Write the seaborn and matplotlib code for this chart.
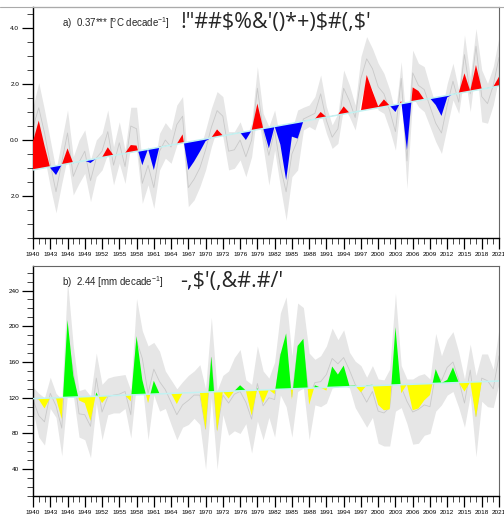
import numpy as np
import pandas as pd
import matplotlib
matplotlib.use('Agg')
import matplotlib.pyplot as plt
import seaborn as sns
from matplotlib.lines import Line2D

# years on the x axis
first_year = 1940
last_year = 2021

# a) temperature anomaly: observed series, ensemble envelope and ensemble mean
obs_a = [-0.05, 0.69, -0.20, -1.00, -1.25, -0.88, -0.30, -0.83, -0.77, -0.74,
         -0.82, -0.66, -0.62, -0.26, -0.55, -0.51, -0.47, -0.18, -0.20, -0.90,
         -0.32, -1.07, -0.22, -0.21, -0.18, -0.14, 0.20, -1.07, -0.77, -0.42,
         -0.04, 0.08, 0.38, 0.16, 0.19, 0.23, 0.27, 0.00, 0.34, 1.30,
         0.42, -0.30, 0.49, -0.17, -1.43, 0.12, 0.05, 0.68, 0.71, 0.75,
         1.00, 0.82, 0.86, 0.90, 1.20, 0.97, 1.01, 1.04, 2.32, 1.75,
         1.20, 1.45, 1.23, 1.00, 1.40, -0.36, 1.88, 1.75, 1.45, 1.49,
         1.25, 0.86, 1.52, 1.64, 1.68, 2.38, 1.75, 2.68, 1.82, 1.86,
         1.90, 2.26]
hi_a = [1.19, 2.05, 1.07, 0.00, -1.07, 0.00, 1.07, -0.60, 0.00, 0.36,
        -0.71, 0.00, 0.24, 1.07, -0.24, 0.65, -0.36, 1.17, 1.17, -0.83,
        -0.24, -0.95, 0.24, 0.62, 0.36, 1.25, 1.55, -1.00, -0.70, -0.36,
        0.36, 1.13, 1.73, 1.55, 0.30, 0.30, 0.65, 0.06, 0.60, 2.62,
        0.95, 0.48, 1.07, 0.00, -0.83, 0.36, 1.07, 1.17, 1.25, 1.55,
        2.32, 1.19, 0.54, 0.95, 2.50, 1.96, 1.25, 2.98, 3.69, 3.27,
        2.74, 2.38, 1.79, 0.95, 2.80, 0.24, 3.21, 2.74, 2.62, 1.90,
        1.25, 1.00, 2.02, 2.74, 1.79, 3.75, 2.26, 3.98, 2.50, 2.02,
        2.62, 3.69]
lo_a = [-0.30, 0.20, -0.60, -1.67, -2.60, -1.55, -0.60, -1.96, -1.55, -1.19,
        -2.20, -1.31, -1.07, -0.48, -1.60, -0.83, -1.55, -0.18, -0.36, -2.26,
        -1.60, -2.44, -1.07, -0.65, -0.83, -0.18, 0.12, -2.38, -2.14, -1.67,
        -1.07, -0.24, 0.42, 0.12, -1.07, -1.01, -0.71, -1.31, -0.60, 1.07,
        -0.24, -1.61, -0.36, -1.67, -2.86, -1.31, -1.07, 0.36, 0.48, 0.36,
        0.95, 0.24, -0.30, -0.12, 1.19, 0.83, 0.36, 1.43, 2.14, 1.79,
        1.07, 0.95, 0.36, -0.36, 1.55, -1.73, 1.55, 1.19, 1.01, 0.48,
        -0.06, -0.48, 0.48, 1.43, 0.95, 2.38, 1.01, 2.74, 0.65, 0.60,
        1.25, 2.26]
mid_a = [0.45, 1.15, 0.25, -0.85, -1.85, -0.80, 0.25, -1.30, -0.80, -0.40,
         -1.45, -0.65, -0.40, 0.30, -0.90, -0.10, -0.95, 0.50, 0.40, -1.55,
         -0.90, -1.70, -0.40, 0.00, -0.25, 0.55, 0.85, -1.70, -1.40, -1.00,
         -0.35, 0.45, 1.05, 0.85, -0.40, -0.35, 0.00, -0.60, 0.00, 1.85,
         0.35, -0.55, 0.35, -0.95, -1.85, -0.50, 0.00, 0.75, 0.85, 0.95,
         1.65, 0.70, 0.10, 0.40, 1.85, 1.40, 0.80, 2.20, 2.90, 2.55,
         1.90, 1.65, 1.05, 0.30, 2.20, -0.75, 2.40, 1.95, 1.80, 1.20,
         0.60, 0.25, 1.25, 2.10, 1.35, 3.05, 1.65, 3.35, 1.55, 1.30,
         1.95, 2.95]
trend_a = (-1.07, 0.037)   # value in 1940, change per year

# b) precipitation
obs_b = [119.5, 118, 108, 119.9, 119.5, 96, 207, 145, 117, 114,
         94, 126, 114, 122.0, 122.25, 122.5, 122.7, 116, 189, 140,
         114, 139, 124.5, 124.7, 124.9, 113, 125.4, 125.6, 125.9, 126.1,
         84, 166, 82, 127, 119, 127.6, 134, 128.1, 100, 131,
         114, 129, 124, 168, 192, 118, 178, 186, 112, 134,
         131.3, 128, 155, 146, 156, 133.4, 133.7, 126, 134, 134.5,
         112, 106, 107, 199, 125, 135, 106, 108, 117, 123,
         152, 136.5, 140, 154, 137, 127, 137.6, 98, 138, 138.3,
         138.6, 138.9]
hi_b = [132, 125, 120, 143, 125, 118, 251, 178, 128, 130,
        122, 170, 135, 142, 144, 145, 146, 128, 231, 195,
        178, 182, 172, 150, 140, 130, 138, 145, 150, 157,
        130, 210, 128, 145, 150, 165, 174, 140, 135, 178,
        150, 142, 160, 215, 233, 167, 226, 221, 170, 163,
        167, 178, 198, 185, 196, 171, 161, 156, 143, 156,
        141, 140, 152, 237, 156, 141, 141, 145, 147, 141,
        192, 167, 185, 194, 171, 141, 180, 145, 169, 169,
        152, 198]
lo_b = [105, 76, 67, 108, 98, 55, 125, 123, 76, 73,
        53, 114, 73, 101, 103, 103, 108, 75, 137, 134,
        73, 123, 105, 108, 90, 73, 87, 90, 97, 90,
        40, 120, 40, 101, 78, 83, 80, 91, 58, 94,
        73, 98, 76, 123, 110, 76, 127, 131, 73, 112,
        110, 114, 131, 132, 134, 131, 109, 98, 87, 98,
        69, 66, 66, 105, 109, 91, 68, 69, 78, 80,
        105, 112, 123, 127, 109, 87, 123, 54, 116, 110,
        109, 136]
mid_b = [118, 100, 93, 125, 111, 86, 188, 150, 102, 101,
         88, 142, 104, 121, 123, 124, 127, 101, 184, 164,
         125, 152, 138, 129, 115, 101, 112, 117, 123, 123,
         85, 165, 84, 123, 114, 124, 127, 115, 96, 136,
         111, 120, 118, 169, 171, 121, 176, 176, 121, 137,
         138, 146, 164, 158, 165, 151, 135, 127, 115, 127,
         105, 103, 109, 171, 132, 116, 104, 107, 112, 110,
         148, 139, 154, 160, 140, 114, 151, 99, 142, 139,
         130, 167]
trend_b = (119.0, 0.244)

yticks_a = [-2.0, 0.0, 2.0, 4.0]
ytick_labels_a = ['2.0', '0.0', '2.0', '4.0']
yticks_b = [40, 80, 120, 160, 200, 240]
ytick_labels_b = ['40', '80', '120', '160', '200', '240']

label_a = 'a)  0.37*** [$\\mathregular{^o}$C decade$^{\\mathregular{-1}}$]'
label_b = 'b)  2.44 [mm decade$^{\\mathregular{-1}}$]'
garble_a = '!"##$%&\'()*+)$#(,$\''
garble_b = '-,$\'(,&#.#/\''


def draw_panel(ax, obs, lo, hi, mid, trend, up_color, down_color,
               ylim, yticks, ytick_labels, minor_step, label, garble):
    years = np.arange(first_year, last_year + 1)
    df = pd.DataFrame({'year': years, 'obs': obs, 'lo': lo, 'hi': hi, 'mid': mid})
    df['trend'] = trend[0] + trend[1] * (df['year'] - first_year)

    # ensemble envelope and mean
    ax.fill_between(df['year'], df['lo'], df['hi'], color='#e6e6e6', lw=0, zorder=1)
    sns.lineplot(data=df, x='year', y='mid', ax=ax, color='#c9c9c9', lw=0.6, zorder=2)

    # departures from the trend
    ax.fill_between(df['year'], df['obs'], df['trend'], where=df['obs'] >= df['trend'],
                    interpolate=True, color=up_color, lw=0, zorder=3)
    ax.fill_between(df['year'], df['obs'], df['trend'], where=df['obs'] <= df['trend'],
                    interpolate=True, color=down_color, lw=0, zorder=3)
    sns.lineplot(data=df, x='year', y='trend', ax=ax, color='#c2f2f2', lw=1.1, zorder=4)

    ax.set_xlim(first_year, last_year)
    ax.set_ylim(*ylim)
    ax.set_xticks(np.arange(first_year, last_year + 1, 3))
    ax.set_xticks(np.arange(first_year, last_year + 1, 1), minor=True)
    ax.set_yticks(yticks, labels=ytick_labels)
    ax.set_yticks(np.arange(ylim[0] - ylim[0] % minor_step, ylim[1], minor_step), minor=True)
    ax.set_xlabel('')
    ax.set_ylabel('')

    ax.tick_params(axis='both', which='major', direction='out', length=8, width=0.9,
                   labelsize=4.6, pad=2, colors='black')
    ax.tick_params(axis='both', which='minor', direction='out', length=4.3, width=0.6)
    ax.tick_params(top=False, right=False, which='both')
    for lab in ax.get_xticklabels() + ax.get_yticklabels():
        lab.set_family('Liberation Sans')

    for side in ['left', 'bottom']:
        ax.spines[side].set_color('black')
        ax.spines[side].set_linewidth(1.0)
    for side in ['top', 'right']:
        ax.spines[side].set_color('#666666')
        ax.spines[side].set_linewidth(0.8)

    ax.text(0.062, 0.93, label, transform=ax.transAxes, fontsize=7,
            family='Liberation Sans', va='center', ha='left')
    ax.text(0.316, 0.978, garble, transform=ax.transAxes, fontsize=15.5,
            family='Open Sans', va='top', ha='left', parse_math=False)


def main():
    sns.set_theme(style='ticks')
    plt.rcParams['font.family'] = ['Liberation Sans', 'DejaVu Sans']
    plt.rcParams['mathtext.fontset'] = 'custom'
    plt.rcParams['mathtext.rm'] = 'Liberation Sans'

    fig = plt.figure(figsize=(5.04, 5.16), dpi=100)
    W, H = 504, 516
    ax_a = fig.add_axes([33 / W, 1 - 238 / H, 466 / W, 231 / H])
    ax_b = fig.add_axes([33 / W, 1 - 496 / H, 466 / W, 230 / H])

    draw_panel(ax_a, obs_a, lo_a, hi_a, mid_a, trend_a, '#ff0000', '#0000ff',
               (-3.5, 4.75), yticks_a, ytick_labels_a, 0.5, label_a, garble_a)
    draw_panel(ax_b, obs_b, lo_b, hi_b, mid_b, trend_b, '#00ff00', '#ffff00',
               (19.5, 267.5), yticks_b, ytick_labels_b, 10, label_b, garble_b)

    # thin separator line across the top of the picture
    fig.add_artist(Line2D([0, 1], [1 - 7 / H, 1 - 7 / H], transform=fig.transFigure,
                          color='#aaaaaa', lw=0.8))

    fig.savefig('out.png', dpi=100)
    plt.close(fig)


if __name__ == "__main__":
    main()
